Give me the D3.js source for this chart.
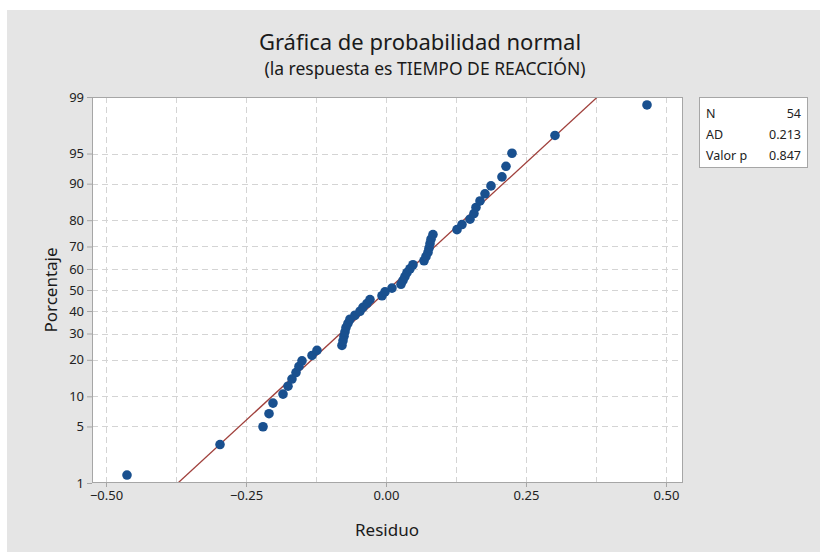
<!DOCTYPE html>
<html>
<head>
<meta charset="utf-8">
<script src="https://cdn.jsdelivr.net/npm/d3@7"></script>
<style>
  html, body { margin: 0; padding: 0; background: #ffffff; }
  svg { display: block; }
  text { font-family: "Noto Sans", "Open Sans", sans-serif; }
</style>
</head>
<body>
<svg id="chart" width="820" height="552"></svg>
<script>
// Sorted residuals (54 observations)
const residuals = [
  -0.4625, -0.2964, -0.2196, -0.2089, -0.2018, -0.1839, -0.1750, -0.1679, -0.1607, -0.1554,
  -0.1500, -0.1321, -0.1232, -0.0786, -0.0768, -0.0750, -0.0732, -0.0714, -0.0679, -0.0643,
  -0.0554, -0.0464, -0.0411, -0.0339, -0.0286, -0.0071, -0.0018, 0.0107, 0.0268, 0.0304,
  0.0339, 0.0375, 0.0429, 0.0482, 0.0679, 0.0714, 0.0750, 0.0768, 0.0786, 0.0804,
  0.0839, 0.1268, 0.1357, 0.1500, 0.1571, 0.1607, 0.1679, 0.1768, 0.1875, 0.2071,
  0.2143, 0.2250, 0.3018, 0.4661
];

// Fitted normal reference line
const fitMean = 0.003;
const fitSd = 0.161;

const xTicks = [-0.50, -0.25, 0.00, 0.25, 0.50];
const xGrid = [-0.50, -0.375, -0.25, -0.125, 0.00, 0.125, 0.25, 0.375, 0.50];
const yTicks = [1, 5, 10, 20, 30, 40, 50, 60, 70, 80, 90, 95, 99];

const statLabels = ["N", "AD", "Valor p"];
const statValues = ["54", "0.213", "0.847"];

const titleText = "Gráfica de probabilidad normal";
const subtitleText = "(la respuesta es TIEMPO DE REACCIÓN)";
const xLabel = "Residuo";
const yLabel = "Porcentaje";

// ---- layout ----
const svg = d3.select("#chart");
const plot = { left: 92, top: 97, right: 683, bottom: 483 };

// background panel
svg.append("rect").attr("x", 7).attr("y", 10).attr("width", 813).attr("height", 542)
  .attr("fill", "#e5e5e5");

// ---- scales ----
const x = d3.scaleLinear().domain([-0.525, 0.5304]).range([plot.left, plot.right]);

// inverse normal CDF (Acklam approximation)
function qnorm(p) {
  const a = [-3.969683028665376e+01, 2.209460984245205e+02, -2.759285104469687e+02,
             1.383577518672690e+02, -3.066479806614716e+01, 2.506628277459239e+00];
  const b = [-5.447609879822406e+01, 1.615858368580409e+02, -1.556989798598866e+02,
             6.680131188771972e+01, -1.328068155288572e+01];
  const c = [-7.784894002430293e-03, -3.223964580411365e-01, -2.400758277161838e+00,
             -2.549732539343734e+00, 4.374664141464968e+00, 2.938163982698783e+00];
  const d = [7.784695709041462e-03, 3.224671290700398e-01, 2.445134137142996e+00,
             3.754408661907416e+00];
  const pl = 0.02425, ph = 1 - pl;
  let q, r;
  if (p < pl) {
    q = Math.sqrt(-2 * Math.log(p));
    return (((((c[0]*q+c[1])*q+c[2])*q+c[3])*q+c[4])*q+c[5]) /
           ((((d[0]*q+d[1])*q+d[2])*q+d[3])*q+1);
  } else if (p <= ph) {
    q = p - 0.5; r = q * q;
    return (((((a[0]*r+a[1])*r+a[2])*r+a[3])*r+a[4])*r+a[5])*q /
           (((((b[0]*r+b[1])*r+b[2])*r+b[3])*r+b[4])*r+1);
  } else {
    q = Math.sqrt(-2 * Math.log(1 - p));
    return -(((((c[0]*q+c[1])*q+c[2])*q+c[3])*q+c[4])*q+c[5]) /
            ((((d[0]*q+d[1])*q+d[2])*q+d[3])*q+1);
  }
}
// probability axis: linear in the normal quantile
const zScale = d3.scaleLinear().domain([qnorm(0.01), qnorm(0.99)]).range([plot.bottom, plot.top]);
const y = pct => zScale(qnorm(pct / 100));

// plot area
svg.append("rect").attr("x", plot.left).attr("y", plot.top)
  .attr("width", plot.right - plot.left).attr("height", plot.bottom - plot.top)
  .attr("fill", "#ffffff");

// grid
const grid = svg.append("g").attr("stroke", "#d4d4d4").attr("stroke-width", 1)
  .attr("stroke-dasharray", "6,4");
grid.selectAll("line.v").data(xGrid).join("line")
  .attr("x1", d => Math.round(x(d)) + 0.5).attr("x2", d => Math.round(x(d)) + 0.5)
  .attr("y1", plot.top).attr("y2", plot.bottom);
grid.selectAll("line.h").data(yTicks.filter(t => t > 1 && t < 99)).join("line")
  .attr("y1", d => Math.round(y(d)) + 0.5).attr("y2", d => Math.round(y(d)) + 0.5)
  .attr("x1", plot.left).attr("x2", plot.right);

// reference line (clipped to plot)
svg.append("clipPath").attr("id", "clip").append("rect")
  .attr("x", plot.left).attr("y", plot.top)
  .attr("width", plot.right - plot.left).attr("height", plot.bottom - plot.top);
const zs = [qnorm(0.005), qnorm(0.995)];
svg.append("line").attr("clip-path", "url(#clip)")
  .attr("x1", x(fitMean + fitSd * zs[0])).attr("y1", zScale(zs[0]))
  .attr("x2", x(fitMean + fitSd * zs[1])).attr("y2", zScale(zs[1]))
  .attr("stroke", "#a0403c").attr("stroke-width", 1.3);

// points: median-rank plotting positions
const n = residuals.length;
const pts = residuals.map((r, i) => ({ r, p: 100 * (i + 1 - 0.3) / (n + 0.4) }));
svg.append("g").selectAll("circle").data(pts).join("circle")
  .attr("cx", d => x(d.r)).attr("cy", d => y(d.p)).attr("r", 4.8)
  .attr("fill", "#19508f");

// frame
svg.append("rect").attr("x", plot.left + 0.5).attr("y", plot.top + 0.5)
  .attr("width", plot.right - plot.left - 1).attr("height", plot.bottom - plot.top - 1)
  .attr("fill", "none").attr("stroke", "#a6a6a6");

// axes
const xAxis = d3.axisBottom(x).tickValues(xTicks).tickFormat(d3.format(".2f")).tickSize(4).tickPadding(4);
const gx = svg.append("g").attr("transform", `translate(0,${plot.bottom})`).call(xAxis);
const yAxis = d3.axisLeft(zScale).tickValues(yTicks.map(t => qnorm(t / 100)))
  .tickFormat((d, i) => yTicks[i]).tickSize(5).tickPadding(3);
const gy = svg.append("g").attr("transform", `translate(${plot.left},0)`).call(yAxis);
[gx, gy].forEach(g => {
  g.select(".domain").remove();
  g.selectAll(".tick line").attr("stroke", "#a6a6a6");
  g.selectAll(".tick text").attr("fill", "#222").attr("font-size", 13)
    .style("font-family", "'Noto Sans', sans-serif");
});

// titles
svg.append("text").attr("x", 420).attr("y", 50).attr("text-anchor", "middle")
  .attr("font-size", 22).attr("fill", "#1a1a1a").text(titleText);
svg.append("text").attr("x", 425).attr("y", 75).attr("text-anchor", "middle")
  .attr("font-size", 17.5).attr("fill", "#1a1a1a").text(subtitleText);
svg.append("text").attr("x", 387).attr("y", 536).attr("text-anchor", "middle")
  .attr("font-size", 17).attr("fill", "#1a1a1a").text(xLabel);
svg.append("text").attr("transform", "translate(57,290) rotate(-90)")
  .attr("text-anchor", "middle").attr("font-size", 17).attr("fill", "#1a1a1a").text(yLabel);

// statistics box
const box = svg.append("g").attr("transform", "translate(699,97)");
box.append("rect").attr("x", 0.5).attr("y", 0.5).attr("width", 108).attr("height", 70)
  .attr("fill", "#ffffff").attr("stroke", "#a6a6a6");
statLabels.forEach((lab, i) => {
  box.append("text").attr("x", 7).attr("y", 21 + i * 21).attr("font-size", 12.5)
    .attr("fill", "#222").text(lab);
  box.append("text").attr("x", 102).attr("y", 21 + i * 21).attr("font-size", 12.5)
    .attr("text-anchor", "end").attr("fill", "#222").text(statValues[i]);
});
</script>
</body>
</html>
